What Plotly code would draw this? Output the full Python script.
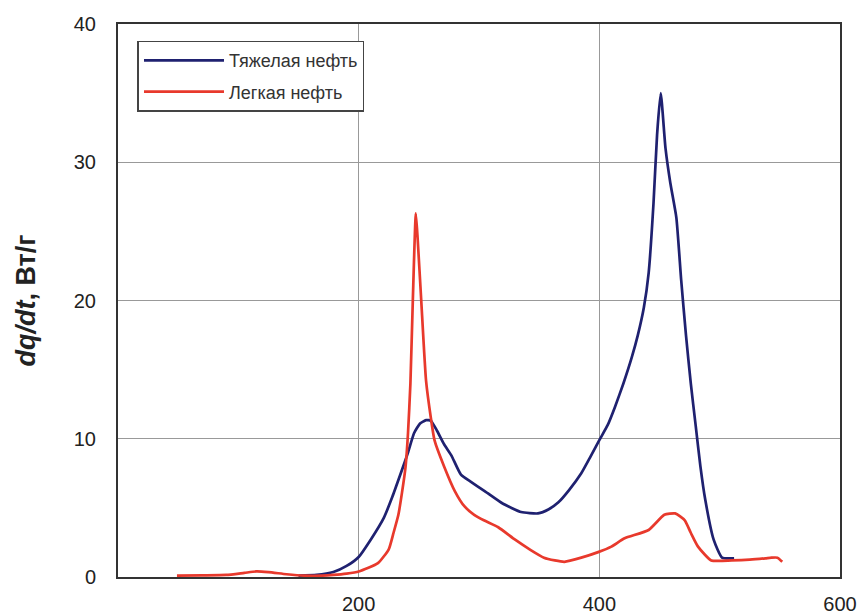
import plotly.graph_objects as go

heavy_x = [150, 165, 179, 190, 200, 210, 221, 228, 235, 241, 246, 251, 256, 260, 265, 271, 277, 285, 293, 305, 320, 335, 349, 358, 366, 375, 385, 392, 400, 407, 413, 420, 427, 432, 437, 441, 445, 448, 451, 455, 459, 464, 468, 472, 476, 480, 484, 488, 495, 502, 512]
heavy_y = [0.1, 0.15, 0.36, 0.8, 1.45, 2.7, 4.3, 5.8, 7.5, 9.0, 10.4, 11.1, 11.35, 11.3, 10.6, 9.6, 8.8, 7.4, 6.9, 6.2, 5.3, 4.7, 4.6, 4.9, 5.4, 6.3, 7.5, 8.6, 9.9, 11.0, 12.3, 14.0, 15.9, 17.5, 19.5, 22.0, 27.0, 32.0, 35.0, 31.0, 28.5, 26.0, 21.5, 17.5, 14.0, 11.0, 8.0, 5.6, 2.7, 1.4, 1.35]

light_x = [49, 70, 90, 105, 115, 125, 140, 155, 170, 179, 190, 200, 216, 225, 229, 233, 236, 239, 241, 243, 245, 247.5, 249, 252, 256, 260, 263, 271, 280, 288, 296, 304, 316, 330, 343, 354, 363, 371, 385, 399, 410, 421, 441, 454, 463, 471, 476, 482, 493, 510, 525, 538, 543, 548, 552]
light_y = [0.1, 0.12, 0.15, 0.3, 0.4, 0.35, 0.2, 0.1, 0.1, 0.15, 0.25, 0.4, 1.0, 2.0, 3.2, 4.5, 6.1, 8.0, 10.4, 14.0, 20.0, 26.3, 24.5, 20.0, 14.2, 11.5, 9.9, 8.0, 6.2, 5.1, 4.5, 4.1, 3.6, 2.7, 1.95, 1.4, 1.2, 1.1, 1.4, 1.8, 2.2, 2.8, 3.4, 4.5, 4.6, 4.1, 3.2, 2.2, 1.2, 1.2, 1.25, 1.35, 1.4, 1.4, 1.1]

x_ticks = [200, 400, 600]
y_ticks = [0, 10, 20, 30, 40]

font_main = "Liberation Sans, Arial, sans-serif"

fig = go.Figure()
fig.add_trace(go.Scatter(x=heavy_x, y=heavy_y, mode="lines", name="Тяжелая нефть", legendgroup="a",
                         line=dict(color="#1f2170", width=2.7, shape="spline", smoothing=0.5)))
fig.add_trace(go.Scatter(x=light_x, y=light_y, mode="lines", name="Легкая нефть", legendgroup="b",
                         line=dict(color="#e8392c", width=2.7, shape="spline", smoothing=0.5)))

fig.update_layout(
    width=860, height=615,
    margin=dict(l=118, r=20, t=24, b=38),
    paper_bgcolor="white", plot_bgcolor="white",
    font=dict(family=font_main, color="#222"),
    showlegend=True,
    legend=dict(x=0.027, y=0.97, xanchor="left", yanchor="top",
                bordercolor="#444", borderwidth=1.5, bgcolor="white",
                font=dict(size=18, family=font_main, color="#333"),
                tracegroupgap=5, itemwidth=80),
    xaxis=dict(range=[0, 600], tickvals=x_ticks, showgrid=True, gridcolor="#999", gridwidth=1,
               showline=True, linecolor="#333", linewidth=2, mirror=True, zeroline=False,
               ticks="", ticklabelstandoff=8, automargin=False,
               tickfont=dict(size=20, family=font_main, color="#222")),
    yaxis=dict(range=[0, 40], tickvals=y_ticks, showgrid=True, gridcolor="#999", gridwidth=1,
               showline=True, linecolor="#333", linewidth=2, mirror=True, zeroline=False,
               ticks="", ticklabelstandoff=16, automargin=False,
               tickfont=dict(size=20, family=font_main, color="#222"),
               title=dict(text="<b><i>dq/dt</i>, Вт/г</b>", standoff=30,
                          font=dict(size=27, family=font_main, color="#222"))),
)

fig.write_html("out.html")
